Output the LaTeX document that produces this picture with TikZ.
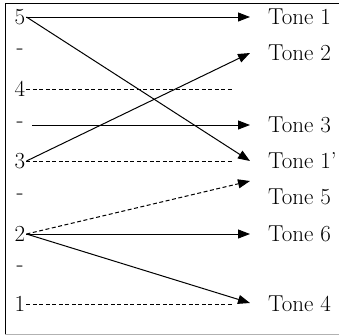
\documentclass[tikz,border=0pt]{standalone}
\usetikzlibrary{arrows.meta}
\begin{document}
\begin{tikzpicture}[x=1pt,y=-1pt,
  lbl/.style={inner sep=0pt,font=\fontsize{23}{26}\selectfont},
  tone/.style={lbl,anchor=west},
  conn/.style={line width=1pt,-{Triangle[length=12pt,width=9pt]}},
  dconn/.style={conn,dash pattern=on 4pt off 2.5pt},
  dline/.style={line width=1pt,dash pattern=on 4pt off 2.5pt}]
\useasboundingbox (0,0) rectangle (339,335);
\draw[line width=1pt] (5,334) -- (5,3) -- (339,3);
\draw[line width=1pt,gray!60] (5,334) -- (339,334);
% left labels
\node[lbl] (l5) at (20,17) {5};
\node[lbl] (l45) at (20,52) {-};
\node[lbl] (l4) at (20,89) {4};
\node[lbl] (l34) at (20,125) {-};
\node[lbl] (l3) at (20,161) {3};
\node[lbl] (l23) at (20,197) {-};
\node[lbl] (l2) at (20,234) {2};
\node[lbl] (l12) at (20,269) {-};
\node[lbl] (l1) at (20,304) {1};
% tones
\node[tone] (t1) at (268,17) {Tone 1};
\node[tone] (t2) at (268,53) {Tone 2};
\node[tone] (t3) at (268,125) {Tone 3};
\node[tone] (t1p) at (268,161) {Tone 1'};
\node[tone] (t5) at (268,197) {Tone 5};
\node[tone] (t6) at (268,234) {Tone 6};
\node[tone] (t4) at (268,304) {Tone 4};
% arrow targets
\coordinate (a1) at (250,17);
\coordinate (a2) at (250,53);
\coordinate (a3) at (250,125);
\coordinate (a1p) at (250,161);
\coordinate (a5) at (250,181);
\coordinate (a6) at (250,234);
\coordinate (a4) at (250,303);
\coordinate (d4) at (232,89);
\coordinate (d3) at (232,161);
\coordinate (d1) at (232,304);
\coordinate (s3) at (32,125);
% connectors
\draw[conn] (l5.east) ++(1,0) coordinate (o5) -- (a1);
\draw[conn] (o5) -- (a1p);
\draw[dline] (l4.east) ++(1,0) -- (d4);
\draw[conn] (s3) -- (a3);
\draw[conn] (l3.east) ++(1,0) coordinate (o3) -- (a2);
\draw[dline] (o3) -- (d3);
\draw[conn] (l2.east) ++(1,0) coordinate (o2) -- (a6);
\draw[dconn] (o2) -- (a5);
\draw[conn] (o2) -- (a4);
\draw[dline] (l1.east) ++(1,0) -- (d1);
\end{tikzpicture}
\end{document}
